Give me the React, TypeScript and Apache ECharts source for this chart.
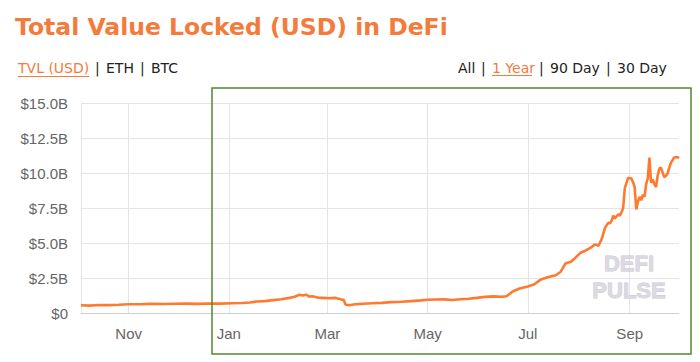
import React, { useEffect, useRef } from "react";
import * as echarts from "echarts";

const TITLE = "Total Value Locked (USD) in DeFi";
const ORANGE = "#F37B3B";
const LINE_ORANGE = "#FF7A2E";

// x axis month ticks
const xTickDates = ["2019-11-01", "2020-01-01", "2020-03-01", "2020-05-01", "2020-07-01", "2020-09-01"];
const xTickLabels = ["Nov", "Jan", "Mar", "May", "Jul", "Sep"];
const xMinDate = "2019-10-03";
const xMaxDate = "2020-10-01";

// y axis (billions USD)
const yMax = 15;
const yStep = 2.5;

// TVL series (billions USD)
const tvlDates = [
  "2019-10-03", "2019-10-08", "2019-10-14", "2019-10-20", "2019-10-26",
  "2019-11-01", "2019-11-08", "2019-11-15", "2019-11-22", "2019-11-29",
  "2019-12-06", "2019-12-13", "2019-12-20", "2019-12-27",
  "2020-01-03", "2020-01-09", "2020-01-14", "2020-01-18", "2020-01-23", "2020-01-28",
  "2020-02-02", "2020-02-07", "2020-02-10", "2020-02-13", "2020-02-15", "2020-02-17",
  "2020-02-19", "2020-02-21", "2020-02-24", "2020-02-27",
  "2020-03-02", "2020-03-06", "2020-03-09", "2020-03-11", "2020-03-12", "2020-03-14",
  "2020-03-18", "2020-03-23", "2020-03-28",
  "2020-04-03", "2020-04-09", "2020-04-15", "2020-04-21", "2020-04-27",
  "2020-05-01", "2020-05-06", "2020-05-11", "2020-05-16", "2020-05-21", "2020-05-26", "2020-05-31",
  "2020-06-05", "2020-06-10", "2020-06-15", "2020-06-18", "2020-06-22", "2020-06-26",
  "2020-07-01", "2020-07-05", "2020-07-09", "2020-07-13", "2020-07-18", "2020-07-21",
  "2020-07-24", "2020-07-27", "2020-07-30",
  "2020-08-02", "2020-08-05", "2020-08-08", "2020-08-11", "2020-08-13", "2020-08-15",
  "2020-08-17", "2020-08-19", "2020-08-20", "2020-08-21", "2020-08-22", "2020-08-23", "2020-08-25",
  "2020-08-26", "2020-08-27", "2020-08-28", "2020-08-29", "2020-08-31",
  "2020-09-02", "2020-09-03", "2020-09-04", "2020-09-05", "2020-09-06", "2020-09-07", "2020-09-08", "2020-09-09",
  "2020-09-10", "2020-09-11", "2020-09-12", "2020-09-13", "2020-09-14", "2020-09-15",
  "2020-09-16", "2020-09-17", "2020-09-18", "2020-09-19", "2020-09-20", "2020-09-21", "2020-09-22",
  "2020-09-23", "2020-09-24", "2020-09-25", "2020-09-26", "2020-09-28", "2020-09-30", "2020-10-01",
];
const tvlValues = [
  0.55, 0.53, 0.57, 0.56, 0.59,
  0.63, 0.62, 0.65, 0.64, 0.66,
  0.67, 0.65, 0.68, 0.67,
  0.70, 0.71, 0.75, 0.82, 0.85, 0.92,
  0.98, 1.08, 1.16, 1.30, 1.25, 1.31,
  1.17, 1.20, 1.10, 1.08,
  1.05, 1.08, 0.98, 0.92, 0.60, 0.55,
  0.62, 0.66, 0.70,
  0.72, 0.78, 0.80, 0.85, 0.90,
  0.95, 0.96, 0.97, 0.93, 0.98, 1.02, 1.08,
  1.15, 1.19, 1.16, 1.20, 1.55, 1.75,
  1.90, 2.05, 2.40, 2.55, 2.70, 2.95,
  3.55, 3.65, 3.95,
  4.30, 4.45, 4.65, 4.90, 4.80, 5.30,
  6.10, 6.45, 6.40, 6.60, 6.95, 6.75, 7.05,
  6.95, 7.20, 7.50, 8.90, 9.65,
  9.60, 9.35, 9.00, 7.40, 7.95, 8.30, 8.05, 8.45,
  8.30, 9.20, 9.60, 11.10, 9.30, 9.55,
  9.20, 9.00, 9.80, 10.30, 10.40, 10.05, 9.70,
  9.80, 9.95, 10.35, 10.70, 11.10, 11.15, 11.05,
];

const leftLinks = [
  { text: "TVL (USD)", x: 18, active: true },
  { text: "|", x: 95, active: false },
  { text: "ETH", x: 106, active: false },
  { text: "|", x: 140, active: false },
  { text: "BTC", x: 151, active: false },
];
const rightLinks = [
  { text: "All", x: 458, active: false },
  { text: "|", x: 481, active: false },
  { text: "1 Year", x: 492, active: true },
  { text: "|", x: 539, active: false },
  { text: "90 Day", x: 550, active: false },
  { text: "|", x: 606, active: false },
  { text: "30 Day", x: 617, active: false },
];

function ts(s: string): number {
  const [y, m, d] = s.split("-").map(Number);
  return Date.UTC(y, m - 1, d);
}

export default function App() {
  const ref = useRef<HTMLDivElement>(null);

  useEffect(() => {
    if (!ref.current) return;
    const chart = echarts.init(ref.current, undefined, { renderer: "svg" });
    const tickTs = xTickDates.map(ts);
    const data = tvlDates.map((d, i) => [ts(d), tvlValues[i]]);

    const headFont = '"DejaVu Sans", sans-serif';
    const wmFont = '"Liberation Sans", Arial, sans-serif';
    const linkTexts: any[] = [];
    [...leftLinks, ...rightLinks].forEach((l) => {
      linkTexts.push({
        type: "text",
        x: l.x,
        y: 68,
        style: {
          text: l.text,
          fill: l.active ? ORANGE : "#222",
          font: `14px ${headFont}`,
          textVerticalAlign: "middle",
          textAlign: "left",
        },
      });
    });

    chart.setOption({
      animation: false,
      grid: { left: 81, right: 21, top: 103, bottom: 49, containLabel: false },
      xAxis: {
        type: "value",
        min: ts(xMinDate),
        max: ts(xMaxDate),
        axisLine: { show: true, lineStyle: { color: "#cfcfcf", width: 1 } },
        axisTick: { show: false },
        splitLine: { show: false },
        axisLabel: {
          customValues: tickTs,
          formatter: (v: number) => {
            const idx = tickTs.indexOf(v);
            return idx >= 0 ? xTickLabels[idx] : "";
          },
          color: "#666",
          fontSize: 15,
          fontFamily: '"Liberation Sans", Arial, sans-serif',
          margin: 13,
        },
      },
      yAxis: {
        type: "value",
        min: 0,
        max: yMax,
        interval: yStep,
        axisLine: { show: true, lineStyle: { color: "#e4e4e4" } },
        axisTick: { show: false },
        splitLine: { show: true, lineStyle: { color: "#e4e4e4", width: 1 } },
        axisLabel: {
          formatter: (v: number) => (v === 0 ? "$0" : "$" + v.toFixed(1) + "B"),
          color: "#666",
          fontSize: 15,
          fontFamily: '"Liberation Sans", Arial, sans-serif',
          margin: 13,
        },
      },
      series: [
        {
          type: "line",
          data,
          showSymbol: false,
          symbol: "none",
          z: 3,
          lineStyle: { color: LINE_ORANGE, width: 2.6 },
          markLine: {
            silent: true,
            z: 1,
            symbol: ["none", "none"],
            label: { show: false },
            lineStyle: { color: "#e4e4e4", type: "solid", width: 1 },
            data: tickTs.map((t) => ({ xAxis: t })),
          },
        },
      ],
      graphic: [
        {
          type: "text",
          x: 15,
          y: 27,
          style: {
            text: TITLE,
            fill: ORANGE,
            font: `bold 23.5px ${headFont}`,
            textVerticalAlign: "middle",
          },
        },
        ...linkTexts,
        { type: "line", shape: { x1: 18, y1: 76.5, x2: 89, y2: 76.5 }, style: { stroke: ORANGE, lineWidth: 1 } },
        { type: "line", shape: { x1: 492, y1: 75.5, x2: 532, y2: 75.5 }, style: { stroke: ORANGE, lineWidth: 1 } },
        {
          type: "text",
          x: 629,
          y: 277,
          z: 6,
          style: {
            text: "DEFI\nPULSE",
            fill: "#dcd9e3",
            stroke: "#c9c5d3",
            lineWidth: 0.8,
            font: `bold 22px ${wmFont}`,
            lineHeight: 27.5,
            textAlign: "center",
            textVerticalAlign: "middle",
          },
        },
        {
          type: "rect",
          z: 10,
          shape: { x: 212, y: 88, width: 479, height: 266 },
          style: { fill: "none", stroke: "#4E8A30", lineWidth: 1.5 },
        },
      ],
    });
    return () => chart.dispose();
  }, []);

  return (
    <div
      ref={ref}
      style={{ position: "fixed", left: 0, top: 0, width: 700, height: 362, background: "#fff" }}
    />
  );
}
